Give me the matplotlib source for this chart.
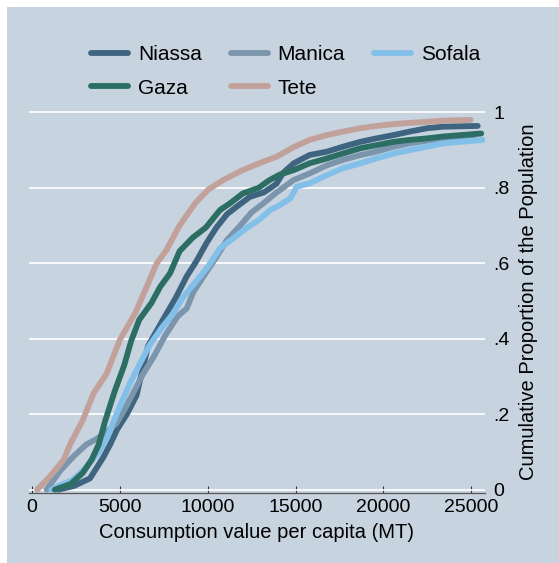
import matplotlib
matplotlib.use("Agg")
import matplotlib.pyplot as plt
from matplotlib.patches import Rectangle

plt.rcParams["font.family"] = ["Liberation Sans", "DejaVu Sans"]

# Cumulative distribution of consumption per capita by province (value, cumulative share)
niassa_x = [1500, 2400, 3300, 4050, 4450, 4850, 5400, 5950, 6300, 6600, 6900, 7450, 8200,
            8800, 9350, 9950, 10500, 11100, 11650, 12400, 13200, 13900, 14300, 14900, 15800,
            16800, 17700, 18700, 19600, 20600, 21500, 22500, 23400, 25370]
niassa_y = [0.0, 0.01, 0.03, 0.085, 0.12, 0.16, 0.2, 0.25, 0.32, 0.38, 0.405, 0.45, 0.51,
            0.565, 0.605, 0.655, 0.695, 0.73, 0.75, 0.776, 0.788, 0.81, 0.84, 0.865, 0.887,
            0.896, 0.909, 0.922, 0.931, 0.94, 0.949, 0.958, 0.962, 0.964]

manica_x = [830, 1600, 2400, 3100, 3700, 4300, 4800, 5300, 5800, 6300, 6900, 7600, 8300,
            8800, 9200, 9900, 10500, 11100, 11800, 12500, 13200, 13900, 14900, 15800, 16800,
            17700, 18700, 19600, 20600, 21500, 22500, 23400, 25200]
manica_y = [0.0, 0.05, 0.09, 0.12, 0.135, 0.155, 0.175, 0.215, 0.26, 0.305, 0.35, 0.41, 0.46,
            0.48, 0.525, 0.575, 0.617, 0.662, 0.697, 0.735, 0.76, 0.787, 0.821, 0.838, 0.86,
            0.874, 0.887, 0.896, 0.909, 0.918, 0.925, 0.931, 0.94]

sofala_x = [1100, 1600, 2300, 3100, 3800, 4300, 4900, 5550, 6100, 6650, 7400, 8000, 8600,
            9300, 10000, 10700, 11450, 12200, 12980, 13550, 13950, 14700, 15070, 15800, 16800,
            17700, 18700, 19600, 20600, 21500, 22500, 23400, 25670]
sofala_y = [0.0, 0.012, 0.025, 0.06, 0.1, 0.14, 0.21, 0.28, 0.33, 0.38, 0.43, 0.465, 0.51,
            0.55, 0.59, 0.64, 0.666, 0.693, 0.717, 0.741, 0.75, 0.772, 0.803, 0.812, 0.834,
            0.852, 0.865, 0.878, 0.891, 0.9, 0.909, 0.918, 0.927]

gaza_x = [1300, 2200, 2900, 3400, 3800, 4150, 4700, 5250, 5650, 6100, 6800, 7300, 7850,
          8400, 9150, 9900, 10700, 11300, 12000, 12900, 13500, 14100, 14900, 15800, 16800,
          17700, 18700, 19600, 20600, 21500, 22500, 23400, 25570]
gaza_y = [0.0, 0.015, 0.045, 0.08, 0.12, 0.18, 0.26, 0.33, 0.395, 0.45, 0.495, 0.538, 0.573,
          0.632, 0.668, 0.695, 0.741, 0.76, 0.785, 0.8, 0.82, 0.835, 0.847, 0.865, 0.878,
          0.891, 0.905, 0.913, 0.922, 0.927, 0.931, 0.936, 0.944]

tete_x = [300, 1000, 1800, 2200, 2900, 3500, 4250, 5000, 5900, 6500, 7100, 7650, 8400, 9300,
          10050, 10900, 11900, 12980, 13900, 14900, 15800, 16800, 17700, 18700, 19600, 20600,
          21500, 22500, 23400, 24970]
tete_y = [0.0, 0.034, 0.079, 0.123, 0.185, 0.255, 0.308, 0.397, 0.47, 0.535, 0.6, 0.635, 0.7,
          0.76, 0.796, 0.821, 0.845, 0.866, 0.882, 0.908, 0.927, 0.94, 0.949, 0.958, 0.964,
          0.969, 0.972, 0.975, 0.978, 0.98]

x_ticks = [0, 5000, 10000, 15000, 20000, 25000]
y_ticks = [0, 0.2, 0.4, 0.6, 0.8, 1.0]
y_tick_labels = ["0", ".2", ".4", ".6", ".8", "1"]

BG = "#C7D3DE"
W, H = 559, 563
fig = plt.figure(figsize=(W / 100, H / 100), dpi=100, facecolor="white")
fig.patches.append(Rectangle((7 / W, 0), 1, 1 - 7 / H, transform=fig.transFigure,
                             facecolor=BG, edgecolor="none", zorder=-10))

ax = fig.add_axes([28.5 / W, (H - 492.7) / H, (485 - 28.5) / W, (492.7 - 95) / H])
ax.set_facecolor("none")
ax.set_xlim(-199, 25785)
ax.set_ylim(-0.008, 1.046)

series = [
    ("Niassa", niassa_x, niassa_y, "#3F6480"),
    ("Manica", manica_x, manica_y, "#7A95AC"),
    ("Sofala", sofala_x, sofala_y, "#82C0EA"),
    ("Gaza", gaza_x, gaza_y, "#2C6E64"),
    ("Tete", tete_x, tete_y, "#C3A19B"),
]
lines = {}
for i, (name, xs, ys, col) in enumerate(series):
    (ln,) = ax.plot(xs, ys, color=col, lw=4.2, solid_capstyle="round",
                    solid_joinstyle="round", zorder=3 + i, label=name)
    lines[name] = ln

for s in ["top", "left", "right"]:
    ax.spines[s].set_visible(False)
ax.spines["bottom"].set_color("#555555")
ax.spines["bottom"].set_linewidth(0.9)

ax.set_xticks(x_ticks)
ax.set_xticklabels([str(v) for v in x_ticks])
ax.tick_params(axis="x", direction="in", length=5, width=0.8, color="#333333",
               labelsize=14, pad=4.8)

ax.yaxis.tick_right()
ax.set_yticks(y_ticks)
ax.set_yticklabels(y_tick_labels)
ax.tick_params(axis="y", length=0, pad=6, labelsize=14)
ax.yaxis.grid(True, color="white", lw=1.2)
ax.set_axisbelow(True)

ax.set_xlabel("Consumption value per capita (MT)", fontsize=14.5)
ax.xaxis.set_label_coords(0.5, (492.7 - 532) / 397.7)
ax.xaxis.label.set_va("center")

ax.yaxis.set_label_position("right")
ax.set_ylabel("Cumulative Proportion of the Population", fontsize=14.5)
ax.yaxis.set_label_coords((528 - 28.5) / 456.5, (492.7 - 302) / 397.7)
ax.yaxis.label.set_va("center")
ax.yaxis.label.set_ha("center")

order = ["Niassa", "Gaza", "Manica", "Tete", "Sofala"]
ax.legend([lines[n] for n in order], order, ncol=3, loc="upper left",
          bbox_to_anchor=(91 / W, 1 - 45 / H), bbox_transform=fig.transFigure,
          frameon=False, fontsize=15, handlelength=1.78, handletextpad=0.48,
          columnspacing=1.37, labelspacing=0.7, borderpad=0, borderaxespad=0)

fig.savefig("out.png", dpi=100, facecolor="white")
